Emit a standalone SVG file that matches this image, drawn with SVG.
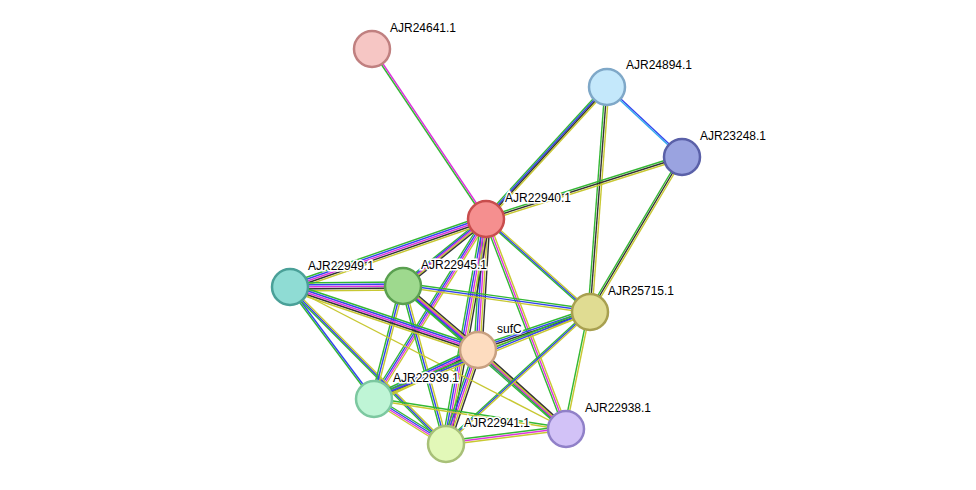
<svg xmlns="http://www.w3.org/2000/svg" width="976" height="490" viewBox="0 0 976 490">
<style>
.e line{stroke-width:1.4;fill:none}
.g{stroke:#33b833}.b{stroke:#3344ee}.m{stroke:#dd33dd}.y{stroke:#c8c832}.k{stroke:#333}.c{stroke:#33aaee}
.n{stroke-width:2.5}
text{font-family:"Liberation Sans",Arial,sans-serif;font-size:12px;fill:#000;stroke:#fff;stroke-width:3;paint-order:stroke}
</style>
<rect width="976" height="490" fill="#fff"/>
<g id="connectors" class="e">
<!-- mostly vertical edges: offsets in x -->
<g id="e1"><line class="g" x1="371" y1="49" x2="485" y2="219"/><line class="m" x1="373" y1="49" x2="487" y2="219"/></g>
<g><line class="g" x1="604" y1="87" x2="483" y2="219"/><line class="b" x1="606" y1="87" x2="485" y2="219"/><line class="k" x1="608" y1="87" x2="487" y2="219"/><line class="y" x1="610" y1="87" x2="489" y2="219"/></g>
<g><line class="g" x1="605" y1="87" x2="588" y2="312"/><line class="k" x1="607" y1="87" x2="590" y2="312"/><line class="y" x1="609" y1="87" x2="592" y2="312"/></g>
<g><line class="g" x1="680" y1="157" x2="588" y2="312"/><line class="k" x1="682" y1="157" x2="590" y2="312"/><line class="y" x1="684" y1="157" x2="592" y2="312"/></g>
<g><line class="g" x1="482" y1="219" x2="399" y2="286"/><line class="b" x1="484" y1="219" x2="401" y2="286"/><line class="m" x1="486" y1="219" x2="403" y2="286"/><line class="y" x1="488" y1="219" x2="405" y2="286"/><line class="k" x1="490" y1="219" x2="407" y2="286"/></g>
<g><line class="g" x1="482" y1="219" x2="474" y2="350"/><line class="b" x1="484" y1="219" x2="476" y2="350"/><line class="m" x1="486" y1="219" x2="478" y2="350"/><line class="y" x1="488" y1="219" x2="480" y2="350"/><line class="k" x1="490" y1="219" x2="482" y2="350"/></g>
<g><line class="g" x1="483" y1="219" x2="371" y2="399"/><line class="b" x1="485" y1="219" x2="373" y2="399"/><line class="m" x1="487" y1="219" x2="375" y2="399"/><line class="y" x1="489" y1="219" x2="377" y2="399"/></g>
<g><line class="g" x1="482" y1="219" x2="442" y2="444"/><line class="b" x1="484" y1="219" x2="444" y2="444"/><line class="m" x1="486" y1="219" x2="446" y2="444"/><line class="y" x1="488" y1="219" x2="448" y2="444"/><line class="k" x1="490" y1="219" x2="450" y2="444"/></g>
<g><line class="g" x1="484" y1="219" x2="564" y2="429"/><line class="m" x1="486" y1="219" x2="566" y2="429"/><line class="y" x1="488" y1="219" x2="568" y2="429"/></g>
<g><line class="g" x1="288" y1="287" x2="372" y2="399"/><line class="b" x1="290" y1="287" x2="374" y2="399"/></g>
<g><line class="g" x1="287" y1="287" x2="443" y2="444"/><line class="b" x1="289" y1="287" x2="445" y2="444"/><line class="y" x1="291" y1="287" x2="447" y2="444"/></g>
<g><line class="g" x1="400" y1="286" x2="371" y2="399"/><line class="b" x1="402" y1="286" x2="373" y2="399"/><line class="y" x1="404" y1="286" x2="375" y2="399"/></g>
<g><line class="g" x1="401" y1="286" x2="444" y2="444"/><line class="b" x1="403" y1="286" x2="446" y2="444"/><line class="y" x1="405" y1="286" x2="448" y2="444"/></g>
<g><line class="g" x1="399" y1="286" x2="562" y2="429"/><line class="b" x1="401" y1="286" x2="564" y2="429"/><line class="m" x1="403" y1="286" x2="566" y2="429"/><line class="y" x1="405" y1="286" x2="568" y2="429"/></g>
<g><line class="g" x1="399" y1="286" x2="474" y2="350"/><line class="b" x1="401" y1="286" x2="476" y2="350"/><line class="m" x1="403" y1="286" x2="478" y2="350"/><line class="y" x1="405" y1="286" x2="480" y2="350"/><line class="k" x1="407" y1="286" x2="482" y2="350"/></g>
<g><line class="g" x1="474" y1="350" x2="442" y2="444"/><line class="b" x1="476" y1="350" x2="444" y2="444"/><line class="m" x1="478" y1="350" x2="446" y2="444"/><line class="y" x1="480" y1="350" x2="448" y2="444"/><line class="k" x1="482" y1="350" x2="450" y2="444"/></g>
<g><line class="g" x1="475" y1="350" x2="563" y2="429"/><line class="m" x1="477" y1="350" x2="565" y2="429"/><line class="y" x1="479" y1="350" x2="567" y2="429"/><line class="k" x1="481" y1="350" x2="569" y2="429"/></g>
<g><line class="g" x1="587" y1="312" x2="443" y2="444"/><line class="b" x1="589" y1="312" x2="445" y2="444"/><line class="y" x1="591" y1="312" x2="447" y2="444"/></g>
<g><line class="g" x1="588" y1="312" x2="564" y2="429"/><line class="y" x1="590" y1="312" x2="566" y2="429"/></g>
<g><line class="g" x1="484" y1="219" x2="588" y2="312"/><line class="b" x1="486" y1="219" x2="590" y2="312"/><line class="y" x1="488" y1="219" x2="592" y2="312"/></g>
<!-- mostly horizontal edges: offsets in y -->
<g><line class="b" x1="607" y1="86" x2="682" y2="156"/><line class="c" x1="607" y1="88" x2="682" y2="158"/></g>
<g><line class="g" x1="486" y1="217" x2="682" y2="155"/><line class="k" x1="486" y1="219" x2="682" y2="157"/><line class="y" x1="486" y1="221" x2="682" y2="159"/></g>
<g><line class="g" x1="486" y1="215" x2="290" y2="283"/><line class="b" x1="486" y1="217" x2="290" y2="285"/><line class="m" x1="486" y1="219" x2="290" y2="287"/><line class="k" x1="486" y1="221" x2="290" y2="289"/><line class="y" x1="486" y1="223" x2="290" y2="291"/></g>
<g><line class="g" x1="290" y1="283" x2="403" y2="282"/><line class="b" x1="290" y1="285" x2="403" y2="284"/><line class="m" x1="290" y1="287" x2="403" y2="286"/><line class="k" x1="290" y1="289" x2="403" y2="288"/><line class="y" x1="290" y1="291" x2="403" y2="290"/></g>
<g><line class="g" x1="290" y1="283" x2="478" y2="346"/><line class="b" x1="290" y1="285" x2="478" y2="348"/><line class="m" x1="290" y1="287" x2="478" y2="350"/><line class="k" x1="290" y1="289" x2="478" y2="352"/><line class="y" x1="290" y1="291" x2="478" y2="354"/></g>
<g><line class="y" x1="290" y1="287" x2="566" y2="429"/></g>
<g><line class="g" x1="403" y1="283" x2="590" y2="309"/><line class="b" x1="403" y1="285" x2="590" y2="311"/><line class="y" x1="403" y1="287" x2="590" y2="313"/></g>
<g><line class="g" x1="478" y1="346" x2="590" y2="308"/><line class="b" x1="478" y1="348" x2="590" y2="310"/><line class="k" x1="478" y1="350" x2="590" y2="312"/><line class="y" x1="478" y1="352" x2="590" y2="314"/></g>
<g><line class="g" x1="478" y1="346" x2="374" y2="395"/><line class="b" x1="478" y1="348" x2="374" y2="397"/><line class="m" x1="478" y1="350" x2="374" y2="399"/><line class="k" x1="478" y1="352" x2="374" y2="401"/><line class="y" x1="478" y1="354" x2="374" y2="403"/></g>
<g><line class="g" x1="590" y1="309" x2="374" y2="396"/><line class="b" x1="590" y1="311" x2="374" y2="398"/><line class="y" x1="590" y1="313" x2="374" y2="400"/></g>
<g><line class="g" x1="374" y1="396" x2="446" y2="441"/><line class="b" x1="374" y1="398" x2="446" y2="443"/><line class="m" x1="374" y1="400" x2="446" y2="445"/><line class="y" x1="374" y1="402" x2="446" y2="447"/></g>
<g><line class="g" x1="374" y1="398" x2="566" y2="428"/><line class="y" x1="374" y1="400" x2="566" y2="430"/></g>
<g><line class="g" x1="446" y1="441" x2="566" y2="426"/><line class="m" x1="446" y1="443" x2="566" y2="428"/><line class="y" x1="446" y1="445" x2="566" y2="430"/></g>
</g>
<g id="AJR24641.1"><circle class="n" cx="372" cy="49" r="18" fill="#f6c6c4" stroke="#c08080"/><text x="390" y="32">AJR24641.1</text></g>
<g id="AJR24894.1"><circle class="n" cx="607" cy="87" r="18" fill="#c4e8fb" stroke="#7fa8c8"/><text x="626" y="69">AJR24894.1</text></g>
<g id="AJR23248.1"><circle class="n" cx="682" cy="157" r="18" fill="#9aa3e0" stroke="#5a60a8"/><text x="700" y="140">AJR23248.1</text></g>
<g id="AJR22940.1"><circle class="n" cx="486" cy="219" r="18" fill="#f58f8f" stroke="#c84d4d"/><text x="505" y="202">AJR22940.1</text></g>
<g id="AJR22949.1"><circle class="n" cx="290" cy="287" r="18" fill="#8fdcd4" stroke="#4aa098"/><text x="308" y="270">AJR22949.1</text></g>
<g id="AJR22945.1"><circle class="n" cx="403" cy="286" r="18" fill="#9ed98e" stroke="#5aa050"/><text x="421" y="269">AJR22945.1</text></g>
<g id="AJR25715.1"><circle class="n" cx="590" cy="312" r="18" fill="#e0dc92" stroke="#a8a050"/><text x="608" y="295">AJR25715.1</text></g>
<g id="sufC"><circle class="n" cx="478" cy="350" r="18" fill="#fddcbf" stroke="#c8a080"/><text x="497" y="333">sufC</text></g>
<g id="AJR22939.1"><circle class="n" cx="374" cy="399" r="18" fill="#bff5d6" stroke="#7cc8a0"/><text x="393" y="382">AJR22939.1</text></g>
<g id="AJR22941.1"><circle class="n" cx="446" cy="444" r="18" fill="#e2f8b8" stroke="#a8c078"/><text x="464" y="427">AJR22941.1</text></g>
<g id="AJR22938.1"><circle class="n" cx="566" cy="429" r="18" fill="#d2c2f7" stroke="#9080c8"/><text x="585" y="412">AJR22938.1</text></g>
</svg>
